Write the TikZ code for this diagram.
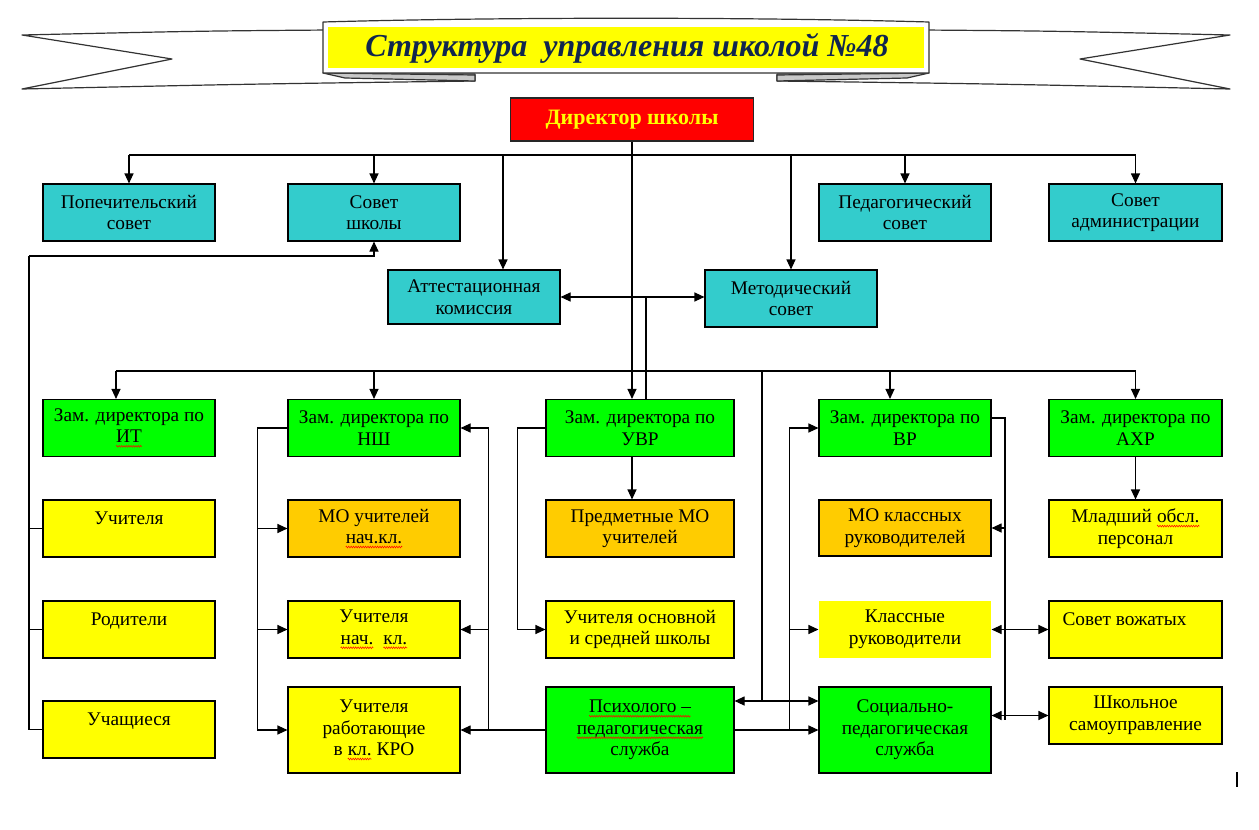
\documentclass[tikz,border=0pt]{standalone}
\usepackage{fontspec}
\setmainfont{Liberation Serif}
\usetikzlibrary{arrows.meta,decorations.pathmorphing}
\definecolor{cteal}{RGB}{51,204,204}
\definecolor{cgreen}{RGB}{0,255,0}
\definecolor{cyel}{RGB}{255,255,0}
\definecolor{corange}{RGB}{255,204,0}
\definecolor{cred}{RGB}{255,0,0}
\definecolor{cnavy}{RGB}{16,38,78}
\definecolor{cfold}{RGB}{200,200,200}
\newcommand\redwave[1]{\tikz[baseline=(w.base)]{\node[inner sep=0pt,outer sep=0pt,minimum width=0pt,minimum height=0pt,draw=none,fill=none] (w) {#1};\draw[red,line width=0.5pt,decorate,decoration={zigzag,amplitude=0.9pt,segment length=2.4pt}] ([yshift=-3.5pt]w.base west) -- ([yshift=-3.5pt]w.base east);}}
\begin{document}
\begin{tikzpicture}[x=1pt,y=-1pt,line width=1.1pt,
  box/.style={draw=black,line width=1.1pt,minimum width=172pt,minimum height=57pt,align=center,inner sep=0pt,font=\fontsize{19.3}{21.5}\selectfont},
  tealbox/.style={box,fill=cteal},
  greenbox/.style={box,fill=cgreen},
  yelbox/.style={box,fill=cyel},
  orbox/.style={box,fill=corange},
  ribbon/.style={draw=black!80,line width=1.2pt,fill=white,line join=round},
  arr/.style={-{Triangle[length=10pt,width=9pt]}},
  arrboth/.style={{Triangle[length=10pt,width=9pt]}-{Triangle[length=10pt,width=9pt]}}]
\useasboundingbox (0,0) rectangle (1259,830);
\fill[white] (0,0) rectangle (1259,830);

% ---- title ribbon ----
\draw[ribbon] (330,30) .. controls (200,31) .. (22,35) -- (172,59) -- (22,89) .. controls (250,84) .. (475,81) -- (475,74) -- (330,74) -- cycle;
\draw[ribbon] (922,30) .. controls (1052,31) .. (1230,35) -- (1080,59) -- (1230,89) .. controls (1002,84) .. (777,81) -- (777,74) -- (922,74) -- cycle;
\draw[ribbon,fill=cfold] (323,73) -- (475,75) -- (475,81) -- (345,78) -- cycle;
\draw[ribbon,fill=cfold] (929,73) -- (777,75) -- (777,81) -- (907,78) -- cycle;
\draw[ribbon] (323,22) .. controls (500,17) and (752,17) .. (929,22) -- (929,73) -- (323,73) -- cycle;
\fill[cyel] (328,27) rectangle (924,68);
\node[font=\fontsize{32}{34}\selectfont\bfseries\itshape,text=cnavy,inner sep=0pt] (title) at (627,48) {Структура\ \ управления школой №48};

% ---- director ----
\node[draw=black!85,line width=1.2pt,fill=cred,minimum width=243pt,minimum height=43pt,inner sep=0pt,text=cyel,font=\fontsize{22}{24}\selectfont\bfseries] (dir) at (632,119.5) {Директор школы};

% ---- councils ----
\node[tealbox] (pop) at (129,212.5) {Попечительский\\совет};
\node[tealbox] (sovsh) at (374,212.5) {Совет\\школы};
\node[tealbox] (ped) at (905,212.5) {Педагогический\\совет};
\node[tealbox,minimum width=173pt] (sadm) at (1135.5,212.5) {Совет\\администрации};
\node[tealbox,minimum height=54pt] (att) at (474,297) {Аттестационная\\комиссия};
\node[tealbox] (met) at (791,298.5) {Методический\\совет};

% ---- deputies ----
\node[greenbox] (zit) at (129,428) {Зам. директора по\\\redwave{ИТ}};
\node[greenbox] (zns) at (374,428) {Зам. директора по\\НШ};
\node[greenbox,minimum width=188pt] (zuvr) at (640,428) {Зам. директора по\\УВР};
\node[greenbox] (zvr) at (905,428) {Зам. директора по\\ВР};
\node[greenbox,minimum width=173pt] (zahr) at (1135.5,428) {Зам. директора по\\АХР};

% ---- row 2 ----
\node[yelbox] (uch) at (129,528.5) {Учителя\\[-8pt]\strut};
\node[orbox] (mon) at (374,528.5) {МО учителей\\\redwave{нач.кл.}};
\node[orbox,minimum width=188pt] (pmo) at (640,528.5) {Предметные МО\\учителей};
\node[orbox,minimum height=56pt] (mok) at (905,528) {МО классных\\руководителей};
\node[yelbox,minimum width=173pt] (mlad) at (1135.5,528.5) {Младший \redwave{обсл.}\\персонал};

% ---- row 3 ----
\node[yelbox] (rod) at (129,629.5) {Родители\\[-8pt]\strut};
\node[yelbox] (unk) at (374,629.5) {Учителя\\\redwave{нач.}\ \ \redwave{кл.}};
\node[yelbox,minimum width=188pt] (uos) at (640,629.5) {Учителя основной\\и средней школы};
\node[yelbox,draw=none] (kr) at (905,629.5) {Классные\\руководители};
\node[yelbox,minimum width=173pt] (svozh) at (1135.5,629.5) {Совет вожатых\hspace*{22pt}\\[-8pt]\strut};

% ---- row 4 ----
\node[yelbox] (uchs) at (129,729.5) {Учащиеся\\[-8pt]\strut};
\node[yelbox,minimum height=86pt] (kro) at (374,730) {Учителя\\работающие\\в \redwave{кл.} КРО};
\node[greenbox,minimum width=188pt,minimum height=86pt] (psy) at (640,730) {\redwave{Психолого –}\\\redwave{педагогическая}\\служба};
\node[greenbox,minimum height=86pt] (soc) at (905,730) {Социально-\\педагогическая\\служба};
\node[yelbox,minimum width=173pt] (shs) at (1135.5,715.5) {Школьное\\самоуправление};

% ---- named junctions ----
\coordinate (tb) at (0,155);
\coordinate (lb) at (0,371);
\coordinate (lv) at (29,256);
\coordinate (cv) at (762,371);
\coordinate (vrR) at (1005,720);
\coordinate (psyj) at ([yshift=29pt]psy.east);

% ---- top bus ----
\draw (pop.north |- tb) -- (sadm.north |- tb);
\foreach \n in {pop,sovsh,ped,sadm,met} \draw[arr] (\n.north |- tb) -- (\n.north);
\draw[arr] ([xshift=29pt]att.north |- tb) -- ([xshift=29pt]att.north);
\draw[arr] (dir.south) -- (dir.south |- zuvr.north);
\draw[arrboth] (att.east) -- (att.east -| met.west);
\draw ([xshift=6pt]zuvr.north |- att.east) -- ([xshift=6pt]zuvr.north);

% ---- lower bus ----
\draw ([xshift=-13pt]zit.north |- lb) -- (zahr.north |- lb);
\draw[arr] ([xshift=-13pt]zit.north |- lb) -- ([xshift=-13pt]zit.north);
\draw[arr] (zns.north |- lb) -- (zns.north);
\draw[arr] ([xshift=-15pt]zvr.north |- lb) -- ([xshift=-15pt]zvr.north);
\draw[arr] (zahr.north |- lb) -- (zahr.north);
\draw (cv) -- (cv |- psyj);
\draw[arrboth] (psyj) -- (psyj -| soc.west);

% ---- left column ----
\draw[arr] (lv) -| (sovsh.south);
\draw (lv) |- (uchs.west);
\draw (lv |- uch.west) -- (uch.west);
\draw (lv |- rod.west) -- (rod.west);

% ---- NS ----
\draw[arr] (zns.west) -| ([xshift=-30pt]kro.west) -- (kro.west);
\draw[arr] ([xshift=-30pt]mon.west) -- (mon.west);
\draw[arr] ([xshift=-30pt]unk.west) -- (unk.west);
\draw[arr] (psy.west) -| ([xshift=28pt]zns.east) -- (zns.east);
\draw[arr] ([xshift=28pt]unk.east) -- (unk.east);
\draw[arr] ([xshift=28pt]kro.east) -- (kro.east);

% ---- UVR ----
\draw[arr] (zuvr.west) -| ([xshift=-28pt]uos.west) -- (uos.west);
\draw[arr] ([xshift=-8pt]zuvr.south) -- ([xshift=-8pt]pmo.north);

% ---- VR ----
\draw[arr] (psy.east) -- (soc.west);
\draw[arr] ([xshift=-29pt]soc.west) |- (zvr.west);
\draw[arr] ([xshift=-29pt]kr.west) -- (kr.west);
\draw ([yshift=10pt]zvr.east) -| (vrR);
\draw[arr] ([xshift=14pt]mok.east) -- (mok.east);
\draw[arrboth] (kr.east) -- (svozh.west);
\draw[arrboth] (soc.east |- shs.west) -- (shs.west);

% ---- AHR ----
\draw[arr] (zahr.south) -- (mlad.north);

% ---- cursor mark ----
\draw[line width=2.5pt] (1237,772) -- (1237,787);
\end{tikzpicture}
\end{document}
